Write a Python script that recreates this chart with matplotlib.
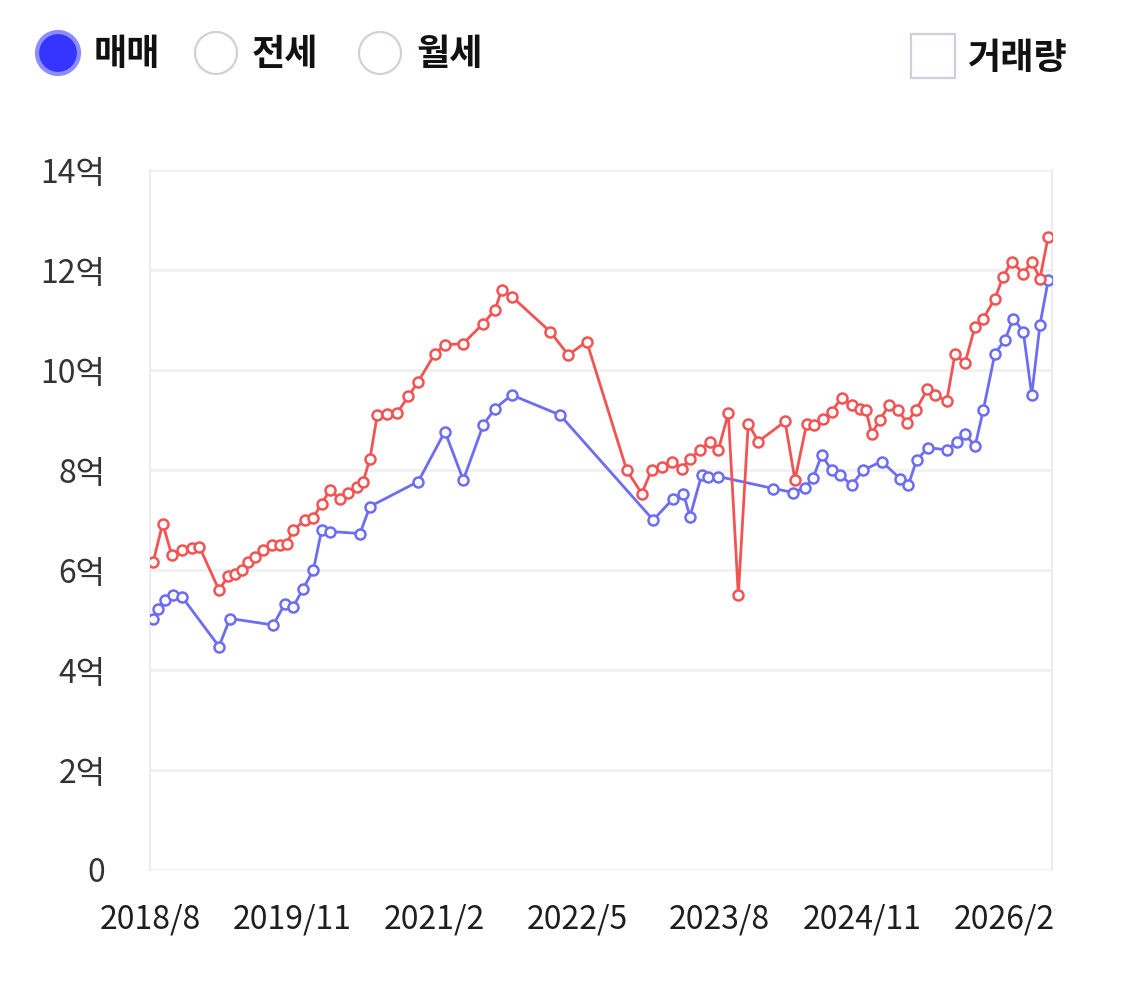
import matplotlib
matplotlib.use("Agg")
import matplotlib.pyplot as plt
from matplotlib.patches import Circle, Rectangle

plt.rcParams['font.family'] = ['Noto Sans CJK KR', 'DejaVu Sans']

# ---- data (time in decimal years, price in 억) ----
red_t = [2018.612, 2018.695, 2018.774, 2018.862, 2018.950, 2019.016, 2019.189, 2019.271,
         2019.329, 2019.388, 2019.446, 2019.505, 2019.578, 2019.651, 2019.724, 2019.783,
         2019.841, 2019.944, 2020.017, 2020.090, 2020.163, 2020.251, 2020.324, 2020.397,
         2020.455, 2020.514, 2020.578, 2020.661, 2020.749, 2020.850, 2020.938, 2021.085,
         2021.172, 2021.333, 2021.508, 2021.611, 2021.670, 2021.758, 2022.094, 2022.255,
         2022.416, 2022.767, 2022.899, 2022.986, 2023.074, 2023.162, 2023.250, 2023.323,
         2023.410, 2023.498, 2023.571, 2023.659, 2023.747, 2023.834, 2023.922, 2024.157,
         2024.244, 2024.347, 2024.411, 2024.493, 2024.566, 2024.654, 2024.742, 2024.815,
         2024.867, 2024.917, 2024.990, 2025.069, 2025.148, 2025.227, 2025.306, 2025.407,
         2025.473, 2025.576, 2025.649, 2025.736, 2025.824, 2025.897, 2025.999, 2026.072,
         2026.146, 2026.248, 2026.322, 2026.394, 2026.467]
red_v = [6.17, 6.93, 6.30, 6.41, 6.45, 6.47, 5.60, 5.88,
         5.93, 6.00, 6.17, 6.27, 6.40, 6.50, 6.50, 6.53,
         6.80, 7.00, 7.05, 7.33, 7.60, 7.42, 7.55, 7.67,
         7.77, 8.23, 9.10, 9.12, 9.13, 9.47, 9.77, 10.33,
         10.50, 10.53, 10.93, 11.20, 11.60, 11.47, 10.77, 10.30,
         10.57, 8.00, 7.53, 8.00, 8.07, 8.17, 8.03, 8.23,
         8.40, 8.57, 8.40, 9.13, 5.50, 8.93, 8.57, 8.97,
         7.80, 8.93, 8.90, 9.03, 9.17, 9.45, 9.30, 9.23,
         9.20, 8.73, 9.00, 9.30, 9.20, 8.95, 9.20, 9.62,
         9.50, 9.38, 10.33, 10.13, 10.87, 11.03, 11.43, 11.87,
         12.17, 11.93, 12.17, 11.83, 12.67]

blue_t = [2018.612, 2018.656, 2018.715, 2018.788, 2018.862, 2019.189, 2019.285, 2019.665,
          2019.768, 2019.841, 2019.929, 2020.017, 2020.090, 2020.163, 2020.426, 2020.514,
          2020.938, 2021.172, 2021.333, 2021.508, 2021.611, 2021.758, 2022.182, 2023.000,
          2023.176, 2023.264, 2023.323, 2023.425, 2023.483, 2023.571, 2024.054, 2024.229,
          2024.332, 2024.405, 2024.478, 2024.566, 2024.639, 2024.742, 2024.843, 2025.005,
          2025.166, 2025.239, 2025.312, 2025.414, 2025.576, 2025.663, 2025.736, 2025.824,
          2025.897, 2025.999, 2026.087, 2026.160, 2026.248, 2026.322, 2026.394, 2026.467]
blue_v = [5.03, 5.23, 5.40, 5.50, 5.47, 4.47, 5.03, 4.90,
          5.33, 5.27, 5.63, 6.00, 6.80, 6.77, 6.73, 7.27,
          7.77, 8.77, 7.80, 8.90, 9.23, 9.50, 9.10, 7.00,
          7.43, 7.53, 7.07, 7.90, 7.87, 7.87, 7.63, 7.55,
          7.65, 7.85, 8.30, 8.00, 7.90, 7.70, 8.00, 8.17,
          7.83, 7.70, 8.20, 8.45, 8.40, 8.57, 8.73, 8.47,
          9.20, 10.33, 10.60, 11.03, 10.77, 9.50, 10.90, 11.80]

tick_labels = ['2018/8', '2019/11', '2021/2', '2022/5', '2023/8', '2024/11', '2026/2']
tick_pos = [2018 + 7/12, 2019 + 10/12, 2021 + 1/12, 2022 + 4/12, 2023 + 7/12, 2024 + 10/12, 2026 + 1/12]
y_ticks = [0, 2, 4, 6, 8, 10, 12, 14]

legend_radio = ['매매', '전세', '월세']
legend_check = '거래량'

RED = '#f25353'
BLUE = '#6c6cf4'

W, H = 1122, 994
fig = plt.figure(figsize=(W / 100, H / 100), dpi=100)
fig.patch.set_facecolor('white')
ax = fig.add_axes([150 / W, 1 - 870 / H, 902 / W, 700 / H])

ax.set_xlim(2018 + 7/12, 2026.5)
ax.set_ylim(0, 14)

for yv in y_ticks:
    ax.axhline(yv, color='#f1f1f1', lw=2.2, zorder=0)

ax.plot(blue_t, blue_v, color=BLUE, lw=2.0, marker='o', ms=7.2, mfc='white',
        mec=BLUE, mew=1.8, zorder=3)
ax.plot(red_t, red_v, color=RED, lw=2.0, marker='o', ms=7.2, mfc='white',
        mec=RED, mew=1.8, zorder=4)

for s in ['top', 'bottom']:
    ax.spines[s].set_visible(False)
for s in ['left', 'right']:
    ax.spines[s].set_color('#ececec')
    ax.spines[s].set_linewidth(1.5)

ax.set_yticks(y_ticks)
ax.set_yticklabels([f'{v}억' if v else '0' for v in y_ticks], fontsize=23, color='#333333')
ax.set_xticks(tick_pos)
ax.set_xticklabels(tick_labels, fontsize=23, color='#1e1e1e')
ax.tick_params(axis='y', length=0, pad=32)
ax.tick_params(axis='x', length=0, pad=24)

# ---- legend controls (overlay in pixel coordinates) ----
lax = fig.add_axes([0, 0, 1, 1])
lax.set_xlim(0, W)
lax.set_ylim(H, 0)
lax.axis('off')

radio_x = [58, 216, 380]
for i, (cx, lab) in enumerate(zip(radio_x, legend_radio)):
    if i == 0:
        lax.add_patch(Circle((cx, 53), 21, facecolor='#3535ff', edgecolor='#8c8cff', lw=3))
    else:
        lax.add_patch(Circle((cx, 53), 21, facecolor='white', edgecolor='#cfd1da', lw=1.6))
    lax.text(cx + 36, 55, lab, fontsize=26, fontweight='bold', color='#111111',
             ha='left', va='center')

lax.add_patch(Rectangle((911, 34), 44, 44, facecolor='white', edgecolor='#cfd1da', lw=1.6))
lax.text(968, 58, legend_check, fontsize=26, fontweight='bold', color='#111111',
         ha='left', va='center')

fig.savefig('out.png', dpi=100, facecolor='white')
